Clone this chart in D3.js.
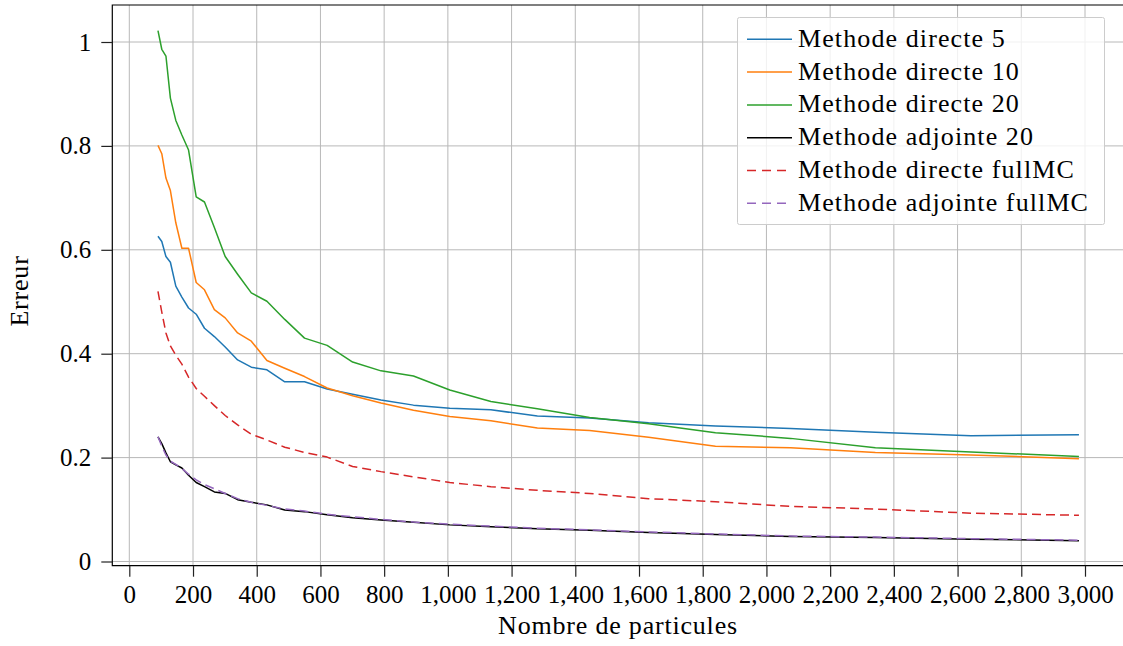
<!DOCTYPE html>
<html>
<head>
<meta charset="utf-8">
<script src="https://cdn.jsdelivr.net/npm/d3@7"></script>
<style>
  html, body { margin: 0; padding: 0; background: #fff; }
  svg { display: block; }
  text { font-family: "Liberation Serif", "DejaVu Serif", serif; fill: #000; }
</style>
</head>
<body>
<svg id="chart" width="1123" height="646"></svg>
<script>
// Number of particles (shared sample grid)
const particles = [90, 102, 115, 129, 146, 165, 186, 210, 236, 267, 301, 340, 383, 432, 488, 550, 621, 701, 790, 892, 1006, 1135, 1281, 1445, 1630, 1840, 2076, 2342, 2642, 2981];

// Error for each method
const directe5 = [0.626, 0.616, 0.587, 0.576, 0.530, 0.509, 0.488, 0.476, 0.449, 0.433, 0.413, 0.388, 0.374, 0.369, 0.346, 0.346, 0.332, 0.322, 0.311, 0.301, 0.295, 0.292, 0.280, 0.276, 0.267, 0.261, 0.256, 0.249, 0.242, 0.244];
const directe10 = [0.801, 0.785, 0.738, 0.714, 0.652, 0.603, 0.603, 0.537, 0.523, 0.485, 0.469, 0.440, 0.424, 0.387, 0.372, 0.356, 0.334, 0.319, 0.305, 0.291, 0.279, 0.271, 0.257, 0.252, 0.239, 0.222, 0.219, 0.210, 0.205, 0.198];
const directe20 = [1.022, 0.986, 0.973, 0.892, 0.849, 0.821, 0.792, 0.702, 0.692, 0.643, 0.587, 0.553, 0.517, 0.501, 0.466, 0.430, 0.416, 0.384, 0.367, 0.357, 0.330, 0.308, 0.294, 0.277, 0.265, 0.248, 0.237, 0.219, 0.211, 0.202];
const adjointe20 = [0.240, 0.227, 0.209, 0.192, 0.186, 0.180, 0.166, 0.152, 0.144, 0.134, 0.131, 0.119, 0.114, 0.109, 0.099, 0.096, 0.090, 0.084, 0.080, 0.0755, 0.0705, 0.067, 0.063, 0.060, 0.056, 0.052, 0.048, 0.046, 0.043, 0.040];
const directeFullMC = [0.520, 0.480, 0.440, 0.415, 0.397, 0.380, 0.355, 0.333, 0.318, 0.300, 0.281, 0.263, 0.245, 0.234, 0.220, 0.210, 0.201, 0.183, 0.173, 0.163, 0.152, 0.144, 0.137, 0.131, 0.121, 0.115, 0.106, 0.101, 0.093, 0.089];
const adjointeFullMC = [0.240, 0.222, 0.205, 0.193, 0.187, 0.179, 0.168, 0.157, 0.148, 0.140, 0.131, 0.121, 0.114, 0.108, 0.101, 0.097, 0.091, 0.086, 0.081, 0.076, 0.072, 0.068, 0.064, 0.061, 0.057, 0.053, 0.049, 0.047, 0.044, 0.041];

const seriesNames = ["Methode directe 5", "Methode directe 10", "Methode directe 20", "Methode adjointe 20", "Methode directe fullMC", "Methode adjointe fullMC"];
const seriesValues = [directe5, directe10, directe20, adjointe20, directeFullMC, adjointeFullMC];
const seriesColors = ["#1f77b4", "#ff7f0e", "#2ca02c", "#000000", "#d62728", "#9467bd"];
const seriesDashed = [false, false, false, false, true, true];

const xTicks = d3.range(0, 3001, 200);
const yTicks = [0, 0.2, 0.4, 0.6, 0.8, 1];

// Plot frame
const frame = { left: 112.3, right: 1130, top: 5, bottom: 565.7 };

const x = d3.scaleLinear().domain([0, 3000]).range([129.3, 1085]);
const y = d3.scaleLinear().domain([0, 1]).range([561.5, 42]);

const svg = d3.select("#chart");
svg.append("rect").attr("width", 1123).attr("height", 646).attr("fill", "#fff");

// Grid
const grid = svg.append("g").attr("stroke", "#b8b8b8").attr("stroke-width", 1);
grid.selectAll("line.vx").data(xTicks).join("line")
  .attr("x1", d => x(d)).attr("x2", d => x(d))
  .attr("y1", frame.top).attr("y2", frame.bottom);
grid.selectAll("line.hy").data(yTicks).join("line")
  .attr("x1", frame.left).attr("x2", frame.right)
  .attr("y1", d => y(d)).attr("y2", d => y(d));

// Lines
const line = d3.line().x((d, i) => x(particles[i])).y(d => y(d));
const plot = svg.append("g");
seriesValues.forEach((vals, k) => {
  plot.append("path")
    .datum(vals)
    .attr("d", line)
    .attr("fill", "none")
    .attr("stroke", seriesColors[k])
    .attr("stroke-width", 1.5)
    .attr("stroke-linejoin", "round")
    .attr("stroke-dasharray", seriesDashed[k] ? "9,5" : null);
});

// Spines
svg.append("path")
  .attr("d", `M${frame.right},${frame.top}H${frame.left}V${frame.bottom}H${frame.right}`)
  .attr("fill", "none").attr("stroke", "#000").attr("stroke-width", 1.2);

// Axes (ticks and labels)
const fmt = d3.format(",");
const xAxis = d3.axisBottom(x).tickValues(xTicks).tickFormat(fmt).tickSize(11).tickPadding(9);
const gx = svg.append("g").attr("transform", `translate(0,${frame.bottom})`).call(xAxis);
gx.select(".domain").remove();
gx.selectAll(".tick line").attr("stroke", "#222").attr("stroke-width", 1.2);
gx.selectAll(".tick text").attr("font-size", 25).attr("font-family", "Liberation Serif, serif");

const yAxis = d3.axisLeft(y).tickValues(yTicks).tickFormat(d => d === 0 ? "0" : d === 1 ? "1" : d3.format(".1f")(d)).tickSize(11).tickPadding(10);
const gy = svg.append("g").attr("transform", `translate(${frame.left},0)`).call(yAxis);
gy.select(".domain").remove();
gy.selectAll(".tick line").attr("stroke", "#222").attr("stroke-width", 1.2);
gy.selectAll(".tick text").attr("font-size", 25).attr("font-family", "Liberation Serif, serif");

// Axis titles
svg.append("text")
  .attr("x", 618).attr("y", 634)
  .attr("text-anchor", "middle")
  .attr("font-size", 26).attr("letter-spacing", 0.8)
  .text("Nombre de particules");
svg.append("text")
  .attr("transform", "translate(28,291) rotate(-90)")
  .attr("text-anchor", "middle")
  .attr("font-size", 26).attr("letter-spacing", 0.8)
  .text("Erreur");

// Legend
const legend = svg.append("g");
legend.append("rect")
  .attr("x", 737.5).attr("y", 17.5).attr("width", 367).attr("height", 207)
  .attr("rx", 2)
  .attr("fill", "#fff").attr("fill-opacity", 0.8)
  .attr("stroke", "#cccccc").attr("stroke-width", 1);
seriesNames.forEach((name, k) => {
  const cy = 39.3 + k * 32.8;
  legend.append("line")
    .attr("x1", 747).attr("x2", 792)
    .attr("y1", cy).attr("y2", cy)
    .attr("stroke", seriesColors[k]).attr("stroke-width", 1.5)
    .attr("stroke-dasharray", seriesDashed[k] ? "9,6" : null);
  legend.append("text")
    .attr("x", 798).attr("y", cy + 7.5)
    .attr("font-size", 26).attr("letter-spacing", 1.1)
    .text(name);
});
</script>
</body>
</html>
